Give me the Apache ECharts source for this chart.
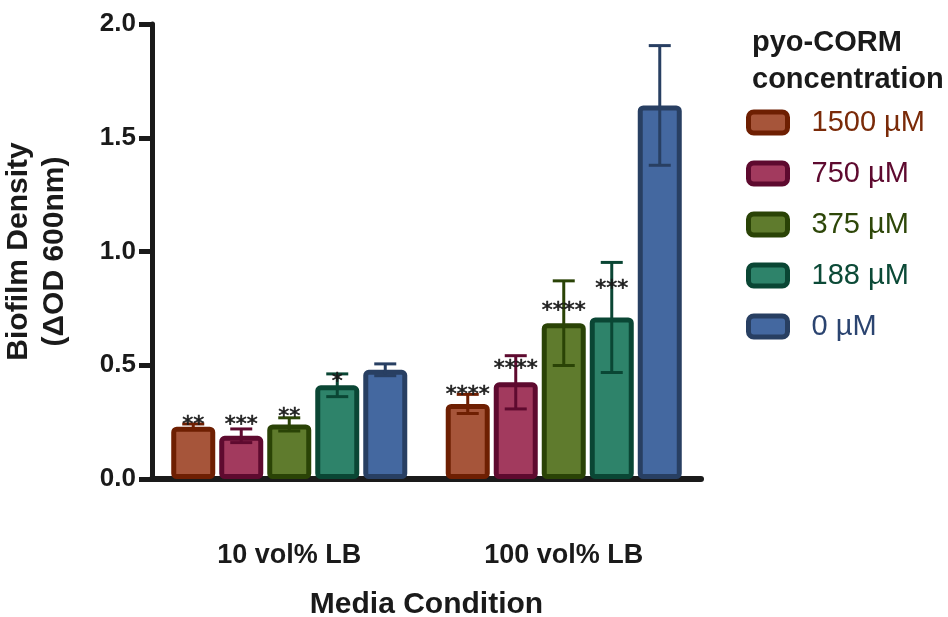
<!DOCTYPE html>
<html>
<head>
<meta charset="utf-8">
<script src="https://cdn.jsdelivr.net/npm/echarts@6/dist/echarts.min.js"></script>
<style>
  html, body { margin: 0; padding: 0; background: #ffffff; }
  #chart { width: 948px; height: 617px; }
</style>
</head>
<body>
<div id="chart"></div>
<script>
// Media conditions on the x axis
const categories = ['10 vol% LB', '100 vol% LB'];
// pyo-CORM concentrations (one bar per concentration in each group)
const concentrations = ['1500 µM', '750 µM', '375 µM', '188 µM', '0 µM'];

// Mean biofilm density per concentration, in category order
const mean1500 = [0.230, 0.330];
const mean750  = [0.190, 0.425];
const mean375  = [0.240, 0.685];
const mean188  = [0.412, 0.710];
const mean0    = [0.480, 1.642];

// Error (± half-range) per concentration, in category order
const err1500 = [0.012, 0.042];
const err750  = [0.030, 0.117];
const err375  = [0.029, 0.186];
const err188  = [0.050, 0.242];
const err0    = [0.026, 0.263];

// Significance marks and the height (in ΔOD units) they are printed at
const sig1500 = ['**', '****'];
const sig750  = ['***', '****'];
const sig375  = ['**', '****'];
const sig188  = ['*', '***'];
const sig0    = ['', ''];
const sigY1500 = [0.255, 0.384];
const sigY750  = [0.255, 0.501];
const sigY375  = [0.290, 0.757];
const sigY188  = [0.444, 0.853];
const sigY0    = [0, 0];

// Y axis ticks
const yTicks = [0, 0.5, 1.0, 1.5, 2.0];

const means = [mean1500, mean750, mean375, mean188, mean0];
const errs = [err1500, err750, err375, err188, err0];
const sigs = [sig1500, sig750, sig375, sig188, sig0];
const sigYs = [sigY1500, sigY750, sigY375, sigY188, sigY0];

const fills   = ['#A6553A', '#A23A5E', '#5F7B2D', '#2E836A', '#4468A0'];
const borders = ['#6E1F02', '#5E0A2F', '#2A4306', '#0A4634', '#283F62'];
const legendText = ['#7A2A08', '#5E0A2F', '#2E4709', '#0C4A37', '#2B4470'];

const BAR_W = 44;
const BAR_GAP = 0.091;
const INK = '#1a1a1a';
const SANS = 'Liberation Sans, Arial, sans-serif';

const barSeries = concentrations.map((name, i) => ({
  name: name,
  type: 'bar',
  barWidth: BAR_W,
  barGap: (BAR_GAP * 100) + '%',
  data: means[i],
  z: 2,
  itemStyle: {
    color: fills[i],
    borderColor: borders[i],
    borderWidth: 5,
    borderRadius: 3
  }
}));

// Error bars and significance marks drawn over each bar
const errSeries = concentrations.map((name, i) => ({
  name: name + ' error',
  type: 'custom',
  z: 5,
  clip: false,
  silent: true,
  encode: { x: 0, y: 1 },
  data: categories.map((c, k) => [k, means[i][k], errs[i][k]]),
  renderItem: function (params, api) {
    const cat = api.value(0);
    const m = api.value(1);
    const e = api.value(2);
    const cx = api.coord([cat, 0])[0] + (i - 2) * BAR_W * (1 + BAR_GAP);
    const yHi = api.coord([cat, m + e])[1];
    const yLo = api.coord([cat, m - e])[1];
    const cap = 11;
    const lineStyle = { stroke: borders[i], lineWidth: 3 };
    const children = [
      { type: 'line', shape: { x1: cx, y1: yHi, x2: cx, y2: yLo }, style: lineStyle },
      { type: 'line', shape: { x1: cx - cap, y1: yHi, x2: cx + cap, y2: yHi }, style: lineStyle },
      { type: 'line', shape: { x1: cx - cap, y1: yLo, x2: cx + cap, y2: yLo }, style: lineStyle }
    ];
    const mark = sigs[i][params.dataIndex];
    if (mark) {
      const sy = api.coord([cat, sigYs[i][params.dataIndex]])[1];
      children.push({
        type: 'text',
        x: cx,
        y: sy + 4,
        style: {
          text: mark,
          fill: INK,
          stroke: INK,
          lineWidth: 0.6,
          font: '22px "DejaVu Sans"',
          align: 'center',
          verticalAlign: 'middle'
        }
      });
    }
    return { type: 'group', children: children };
  }
}));

const chart = echarts.init(document.getElementById('chart'), null, { renderer: 'canvas' });

chart.setOption({
  backgroundColor: '#ffffff',
  animation: false,
  title: {
    text: 'pyo-CORM\nconcentration',
    left: 752,
    top: 24,
    padding: 0,
    textStyle: {
      fontFamily: SANS,
      fontWeight: 'bold',
      fontSize: 29,
      lineHeight: 37,
      color: INK
    }
  },
  legend: {
    orient: 'vertical',
    left: 746,
    top: 108,
    padding: 0,
    itemWidth: 39,
    itemHeight: 21,
    itemGap: 22,
    icon: 'roundRect',
    itemStyle: { borderWidth: 5 },
    selectedMode: false,
    textStyle: {
      fontFamily: SANS,
      fontSize: 29,
      lineHeight: 29,
      padding: [0, 0, 0, 19]
    },
    data: concentrations.map((name, i) => ({
      name: name,
      textStyle: { color: legendText[i] }
    }))
  },
  grid: {
    left: 152,
    right: 247,
    top: 24,
    bottom: 138,
    containLabel: false,
    outerBoundsMode: 'none'
  },
  xAxis: {
    type: 'category',
    data: categories,
    name: 'Media Condition',
    nameLocation: 'middle',
    nameGap: 111,
    nameTextStyle: {
      fontFamily: SANS,
      fontWeight: 'bold',
      fontSize: 30,
      color: INK
    },
    axisLine: { lineStyle: { color: INK, width: 6 } },
    axisTick: { show: false },
    axisLabel: {
      margin: 63,
      fontFamily: SANS,
      fontWeight: 'bold',
      fontSize: 27,
      color: INK
    },
    splitLine: { show: false }
  },
  yAxis: {
    type: 'value',
    min: yTicks[0],
    max: yTicks[yTicks.length - 1],
    interval: 0.5,
    name: 'Biofilm Density\n(ΔOD 600nm)',
    nameLocation: 'middle',
    nameRotate: 90,
    nameGap: 79,
    nameTextStyle: {
      fontFamily: SANS,
      fontWeight: 'bold',
      fontSize: 30,
      lineHeight: 36,
      color: INK
    },
    axisLine: { show: true, lineStyle: { color: INK, width: 5 } },
    axisTick: { show: true, length: 13, lineStyle: { color: INK, width: 5 } },
    axisLabel: {
      margin: 16,
      fontFamily: SANS,
      fontWeight: 'bold',
      fontSize: 26,
      color: INK,
      formatter: v => v.toFixed(1)
    },
    splitLine: { show: false }
  },
  series: barSeries.concat(errSeries)
});
</script>
</body>
</html>
